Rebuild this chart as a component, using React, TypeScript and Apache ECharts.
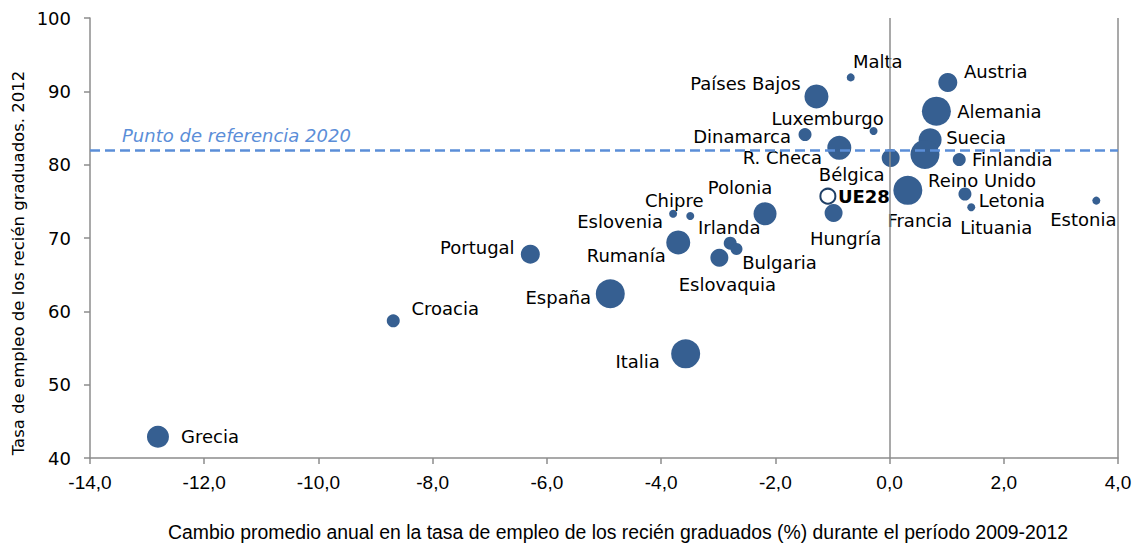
import React, { useEffect, useRef } from "react";
import * as echarts from "echarts";

const countries = [
  "Malta", "Austria", "Países Bajos", "Alemania", "Luxemburgo", "Dinamarca", "R. Checa",
  "Suecia", "Reino Unido", "Bélgica", "Finlandia", "Francia", "Letonia", "Lituania",
  "Estonia", "Hungría", "Polonia", "Chipre", "Eslovenia", "Irlanda", "Rumanía",
  "Bulgaria", "Eslovaquia", "Portugal", "España", "Croacia", "Italia", "Grecia",
];
const changeRate = [
  -0.68, 1.02, -1.28, 0.82, -0.28, -1.48, -0.88,
  0.71, 0.62, 0.02, 1.22, 0.32, 1.32, 1.43,
  3.62, -0.98, -2.18, -3.49, -3.79, -2.79, -3.70,
  -2.68, -2.98, -6.29, -4.89, -8.69, -3.57, -12.81,
];
const employment2012 = [
  91.9, 91.2, 89.3, 87.3, 84.6, 84.1, 82.3,
  83.4, 81.4, 80.9, 80.7, 76.5, 76.0, 74.2,
  75.1, 73.4, 73.3, 73.0, 73.3, 69.3, 69.4,
  68.5, 67.3, 67.8, 62.4, 58.7, 54.2, 42.9,
];
const bubbleSize = [
  8, 19, 24, 29, 8, 13, 24,
  23, 29, 18, 13, 29, 13, 8,
  8, 18, 23, 8, 8, 13, 24,
  12, 18, 19, 29, 13, 29, 22,
];
// label offsets (px) from the bubble centre
const labelOffsets: [number, number][] = [
  [27, -16], [48, -11], [-71, -13], [63, 0], [-46, -12], [-63, 2], [-57, 10],
  [46, -2], [57, 26], [-39, 16], [53, 0], [12, 30], [47, 6], [25, 20],
  [-13, 19], [12, 25], [-25, -26], [-16, -16], [-53, 8], [-1, -16], [-52, 13],
  [43, 13], [8, 27], [-53, -7], [-52, 4], [52, -12], [-48, 8], [52, 0],
];

const euName = "UE28";
const euPoint = [-1.08, 75.7];
const euSize = 15;

const benchmark = 82;
const benchmarkLabel = "Punto de referencia 2020";
const xTicks = [-14, -12, -10, -8, -6, -4, -2, 0, 2, 4];
const yTicks = [40, 50, 60, 70, 80, 90, 100];
const xTitle =
  "Cambio promedio anual en la tasa de empleo de los recién graduados (%) durante el período 2009-2012";
const yTitle = "Tasa de empleo de los recién graduados. 2012";

const BLUE = "#365f91";
const AXIS = "#8c8c8c";
const DASH = "#5b8ed8";
const FONT = "DejaVu Sans, Verdana, sans-serif";
const XFONT = "Liberation Sans, Arial, sans-serif";

export default function App() {
  const ref = useRef<HTMLDivElement>(null);
  useEffect(() => {
    if (!ref.current) return;
    const chart = echarts.init(ref.current, null, { renderer: "svg" });
    const data: any[] = countries.map((c, i) => ({
      name: c,
      value: [changeRate[i], employment2012[i]],
      symbolSize: bubbleSize[i],
      label: { offset: labelOffsets[i] },
    }));
    data.push({
      name: euName,
      value: euPoint,
      symbolSize: euSize,
      itemStyle: { color: "#ffffff", borderColor: "#1f3f66", borderWidth: 2 },
      label: { offset: [36, 0], fontWeight: "bold" },
    });
    chart.setOption({
      animation: false,
      grid: { left: 90, right: 17, top: 18, bottom: 88, containLabel: false },
      xAxis: {
        type: "value",
        min: xTicks[0],
        max: xTicks[xTicks.length - 1],
        interval: 2,
        splitLine: { show: false },
        axisLine: { show: true, onZero: false, lineStyle: { color: AXIS, width: 1.5 } },
        axisTick: { show: true, length: 6, lineStyle: { color: AXIS, width: 1.5 } },
        axisLabel: {
          margin: 15,
          fontFamily: XFONT,
          fontSize: 19,
          color: "#000",
          formatter: (v: number) => v.toFixed(1).replace(".", ","),
        },
      },
      yAxis: {
        type: "value",
        min: yTicks[0],
        max: yTicks[yTicks.length - 1],
        interval: 10,
        splitLine: { show: false },
        axisLine: { show: true, onZero: false, lineStyle: { color: AXIS, width: 1.5 } },
        axisTick: { show: true, length: 6, lineStyle: { color: AXIS, width: 1.5 } },
        axisLabel: { margin: 19, fontFamily: FONT, fontSize: 18, color: "#000" },
      },
      graphic: [
        {
          type: "text",
          x: 18,
          y: 263,
          rotation: Math.PI / 2,
          style: {
            text: yTitle,
            fontFamily: FONT,
            fontSize: 16.5,
            fill: "#000",
            textAlign: "center",
            textVerticalAlign: "middle",
          },
        },
        {
          type: "text",
          x: 168,
          y: 532,
          style: {
            text: xTitle,
            fontFamily: XFONT,
            fontSize: 19.4,
            fill: "#000",
            textAlign: "left",
            textVerticalAlign: "middle",
          },
        },
        {
          type: "text",
          x: 122,
          y: 135,
          style: {
            text: benchmarkLabel,
            fontFamily: FONT,
            fontStyle: "italic",
            fontSize: 18,
            fill: DASH,
            textAlign: "left",
            textVerticalAlign: "middle",
          },
        },
      ],
      series: [
        {
          type: "scatter",
          data,
          itemStyle: { color: BLUE, opacity: 1 },
          label: {
            show: true,
            position: "inside",
            formatter: "{b}",
            fontFamily: FONT,
            fontSize: 18,
            lineHeight: 17,
            color: "#000",
          },
          emphasis: { disabled: true },
          markLine: {
            silent: true,
            symbol: "none",
            label: { show: false },
            data: [
              { xAxis: 0, lineStyle: { color: AXIS, width: 1.5, type: "solid" } },
              { xAxis: 4, lineStyle: { color: AXIS, width: 1.5, type: "solid" } },
              { yAxis: benchmark, lineStyle: { color: DASH, width: 2.5, type: [10, 5] } },
            ],
          },
          z: 3,
        },
      ],
    });
    return () => chart.dispose();
  }, []);
  return (
    <div
      ref={ref}
      style={{ position: "fixed", left: 0, top: 0, width: 1135, height: 546, background: "#fff" }}
    />
  );
}
